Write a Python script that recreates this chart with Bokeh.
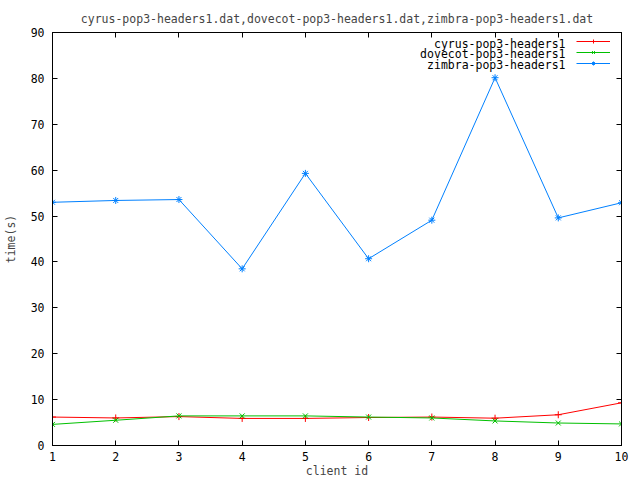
from bokeh.plotting import figure
from bokeh.models import (LinearAxis, FixedTicker, CustomJSTickFormatter, Legend,
                          LegendItem, Label, Range1d)
from bokeh.embed import file_html
from bokeh.resources import INLINE

client_ids = [1, 2, 3, 4, 5, 6, 7, 8, 9, 10]
cyrus = [6.2, 6.0, 6.3, 5.9, 5.9, 6.1, 6.2, 5.95, 6.7, 9.3]
dovecot = [4.6, 5.5, 6.45, 6.45, 6.45, 6.2, 6.0, 5.35, 4.9, 4.7]
zimbra = [53.0, 53.4, 53.6, 38.5, 59.3, 40.7, 49.1, 80.15, 49.6, 52.9]
series_names = ["cyrus-pop3-headers1", "dovecot-pop3-headers1", "zimbra-pop3-headers1"]
x_ticks = [1, 2, 3, 4, 5, 6, 7, 8, 9, 10]
y_ticks = [0, 10, 20, 30, 40, 50, 60, 70, 80, 90]
title_text = "cyrus-pop3-headers1.dat,dovecot-pop3-headers1.dat,zimbra-pop3-headers1.dat"
x_label = "client id"
y_label = "time(s)"

FONT = "DejaVu Sans Mono"
FS = "11.5px"

p = figure(width=640, height=480, output_backend="svg", toolbar_location=None,
           x_range=Range1d(1, 10), y_range=Range1d(0, 90),
           min_border_left=52, min_border_right=19, min_border_top=32, min_border_bottom=34,
           x_axis_location=None, y_axis_location=None)
p.title.text = title_text
p.title.align = "center"
p.title.text_font = FONT
p.title.text_font_size = FS
p.title.text_font_style = "normal"
p.title.standoff = 13
p.grid.visible = False
p.outline_line_color = "black"
p.outline_line_width = 1
p.background_fill_color = "white"
p.border_fill_color = "white"

def style(ax, labels=True):
    ax.major_tick_in = 5
    ax.major_tick_out = 0
    ax.minor_tick_in = 0
    ax.minor_tick_out = 0
    ax.axis_line_color = "black"
    ax.major_tick_line_color = "black"
    ax.major_label_text_font = FONT
    ax.major_label_text_font_size = FS
    ax.major_label_text_color = "black"
    ax.axis_label_text_font = FONT
    ax.axis_label_text_font_size = FS
    ax.axis_label_text_font_style = "normal"
    if not labels:
        ax.formatter = CustomJSTickFormatter(code="return ''")
        ax.major_label_standoff = 0

xb = LinearAxis(ticker=FixedTicker(ticks=x_ticks), axis_label=x_label)
style(xb)
xb.major_label_standoff = 6
xb.axis_label_standoff = 0
p.add_layout(xb, "below")

yl = LinearAxis(ticker=FixedTicker(ticks=y_ticks), axis_label=y_label)
style(yl)
yl.major_label_standoff = 8
yl.axis_label_standoff = 10
p.add_layout(yl, "left")

xt = LinearAxis(ticker=FixedTicker(ticks=x_ticks))
style(xt, labels=False)
p.add_layout(xt, "above")

yr = LinearAxis(ticker=FixedTicker(ticks=y_ticks))
style(yr, labels=False)
p.add_layout(yr, "right")

colors = ["#ff0000", "#00c000", "#0080ff"]
markers = ["cross", "x", "asterisk"]
items = []
for vals, c, m in zip([cyrus, dovecot, zimbra], colors, markers):
    l = p.line(client_ids, vals, line_color=c, line_width=1)
    s = p.scatter(client_ids, vals, marker=m, size=7, line_color=c, line_width=1)
    items.append(LegendItem(label="", renderers=[l, s]))

legend = Legend(items=items, location="top_right", margin=4, padding=3,
                label_standoff=7, label_width=0, label_height=10, glyph_width=34,
                glyph_height=10, spacing=1, border_line_color=None,
                background_fill_alpha=0, label_text_font_size="1px")
p.add_layout(legend, "center")

row_y = [402.0, 391.5, 381.0]
for name, yy in zip(series_names, row_y):
    p.add_layout(Label(x=513, y=yy, x_units="screen", y_units="screen", text=name,
                       text_align="right", text_baseline="middle", text_font=FONT,
                       text_font_size=FS, text_color="black"))

open("out.html", "w").write(file_html(p, INLINE))
